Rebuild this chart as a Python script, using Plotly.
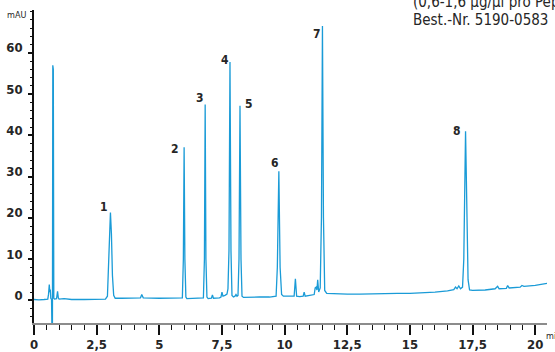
import plotly.graph_objects as go

# ---- data (retention time in min, signal in mAU) ----
time_min = [
    0.00, 0.20, 0.40, 0.55, 0.58, 0.61, 0.63, 0.65, 0.67, 0.70, 0.72, 0.735, 0.75, 0.77, 0.79,
    0.82, 0.90, 0.94, 0.97, 1.00, 1.20, 1.50, 2.00, 2.50, 2.85,
    2.93, 2.97, 3.01, 3.05, 3.09, 3.13, 3.18, 3.24,
    3.50, 4.00, 4.25, 4.30, 4.36, 5.00, 5.50,
    5.92, 5.96, 5.99, 6.02, 6.06, 6.10, 6.40,
    6.76, 6.80, 6.83, 6.86, 6.90, 6.95, 7.08, 7.12, 7.16, 7.40,
    7.46, 7.50, 7.54, 7.62, 7.70, 7.74, 7.78, 7.82, 7.86, 7.90, 7.96,
    8.02, 8.06, 8.10, 8.14, 8.18, 8.22, 8.26, 8.30, 8.36,
    8.60, 9.00, 9.40, 9.66, 9.71, 9.77, 9.82, 9.88, 9.95,
    10.20, 10.38, 10.43, 10.48, 10.60, 10.74, 10.78, 10.82,
    11.00, 11.18, 11.22, 11.26, 11.29, 11.32, 11.36, 11.42, 11.47, 11.51, 11.55, 11.60, 11.68,
    12.00, 12.50, 13.00, 13.50, 14.00, 14.50, 15.00, 15.50, 16.00, 16.50,
    16.75, 16.82, 16.88, 16.95, 17.02, 17.10, 17.15, 17.22, 17.27, 17.32, 17.38,
    17.50, 18.00, 18.40, 18.50, 18.56, 18.85, 18.90, 18.96, 19.40, 19.47, 19.55,
    20.00, 20.30, 20.47,
]
signal_mau = [
    0.2, 0.1, 0.2, 0.3, 1.5, 3.8, 2.0, 2.6, 0.5, 0.2, -9.0, -9.0, 57.0, 56.0, 0.5,
    0.3, 0.4, 2.2, 0.6, 0.3, 0.4, 0.2, 0.2, 0.3, 0.3,
    1.0, 8.0, 17.0, 21.3, 16.0, 6.0, 1.2, 0.5,
    0.5, 0.5, 0.6, 1.4, 0.6, 0.5, 0.6,
    0.6, 10.0, 37.1, 10.0, 0.8, 0.4, 0.5,
    0.6, 10.0, 47.5, 10.0, 0.8, 0.4, 0.5, 1.3, 0.5, 0.6,
    0.8, 2.0, 1.0, 1.2, 1.5, 2.8, 12.0, 57.8, 12.0, 1.2, 0.8,
    1.0, 1.4, 1.0, 1.2, 10.0, 47.2, 10.0, 1.0, 0.7,
    0.8, 0.8, 0.8, 1.0, 8.0, 31.3, 8.0, 1.4, 1.0,
    1.0, 1.0, 5.2, 1.0, 0.9, 1.0, 2.0, 1.0,
    1.2, 1.4, 3.0, 3.2, 2.5, 5.0, 2.0, 3.0, 20.0, 66.5, 20.0, 2.4, 1.7,
    1.6, 1.5, 1.5, 1.6, 1.6, 1.7, 1.7, 1.8, 2.0, 2.3,
    2.6, 3.2, 2.8, 3.5, 2.8, 3.2, 10.0, 41.0, 20.0, 5.0, 2.5,
    2.4, 2.5, 2.8, 3.4, 2.8, 2.9, 3.6, 3.0, 3.2, 3.6, 3.4,
    3.6, 4.0, 4.1,
]

peak_labels = ["1", "2", "3", "4", "5", "6", "7", "8"]
peak_times = [3.05, 5.99, 6.83, 7.82, 8.22, 9.77, 11.51, 17.22]
peak_heights = [21.3, 37.1, 47.5, 57.8, 47.2, 31.3, 66.5, 41.0]

x_tick_vals = [0, 2.5, 5, 7.5, 10, 12.5, 15, 17.5, 20]
x_tick_text = ["0", "2,5", "5", "7,5", "10", "12,5", "15", "17,5", "20"]
y_tick_vals = [0, 10, 20, 30, 40, 50, 60]
y_tick_text = ["0", "10", "20", "30", "40", "50", "60"]

# ---- styling ----
FONT = "DejaVu Sans Condensed, DejaVu Sans, sans-serif"
TXT = "#262626"
LINE = "#1a9bd7"

# label offsets in pixels (dx, dy) relative to peak apex
label_offsets = [(-6, 5), (-9, -2), (-5, 6), (-5, 2), (9, 2), (-4, 8), (-5, -8), (-9, 0)]

fig = go.Figure()
fig.add_trace(go.Scatter(
    x=time_min, y=signal_mau, mode="lines",
    line=dict(color=LINE, width=1.3),
    hoverinfo="skip", showlegend=False,
))

annotations = []
for lab, t, h, (dx, dy) in zip(peak_labels, peak_times, peak_heights, label_offsets):
    annotations.append(dict(
        x=t, y=h, xref="x", yref="y", text=lab, showarrow=False,
        xshift=dx, yshift=dy, font=dict(family=FONT, size=12, color=TXT, weight="bold"),
        xanchor="center", yanchor="middle",
    ))

annotations += [
    dict(x=-0.011, y=0.984, xref="paper", yref="paper", text="mAU", showarrow=False,
         xanchor="right", yanchor="middle", font=dict(family=FONT, size=9, color=TXT)),
    dict(x=0.995, y=-0.0425, xref="paper", yref="paper", text="min", showarrow=False,
         xanchor="left", yanchor="middle", font=dict(family=FONT, size=9, color=TXT)),
    dict(x=0.735, y=1.026, xref="paper", yref="paper", text="(0,6-1,6 µg/µl pro Peptid)",
         showarrow=False, xanchor="left", yanchor="middle",
         font=dict(family=FONT, size=15, color=TXT)),
    dict(x=0.735, y=0.968, xref="paper", yref="paper", text="Best.-Nr. 5190-0583",
         showarrow=False, xanchor="left", yanchor="middle",
         font=dict(family=FONT, size=15, color=TXT)),
]

fig.update_layout(
    width=555, height=352,
    margin=dict(l=34, r=8, t=10, b=29, pad=0),
    paper_bgcolor="white", plot_bgcolor="white",
    annotations=annotations,
    showlegend=False,
)

fig.update_xaxes(
    range=[0, 20.47], tickmode="array", tickvals=x_tick_vals, ticktext=x_tick_text,
    automargin=False,
    showgrid=False, zeroline=False, showline=True, linecolor="#8c8c8c", linewidth=1.5,
    ticks="outside", ticklen=10, tickwidth=1.5, tickcolor="#111",
    ticklabelstandoff=-1,
    tickfont=dict(family=FONT, size=13, color=TXT, weight="bold"),
    minor=dict(ticks="outside", tickmode="linear", tick0=0, dtick=0.5, ticklen=5,
               tickwidth=1.2, tickcolor="#111", showgrid=False),
)
fig.update_yaxes(
    range=[-5.5, 70.4], tickmode="array", tickvals=y_tick_vals, ticktext=y_tick_text,
    automargin=False,
    showgrid=False, zeroline=False, showline=True, linecolor="#111", linewidth=1.5,
    ticks="outside", ticklen=4, tickwidth=1.5, tickcolor="#111",
    ticklabelshift=-5, ticklabelstandoff=3,
    tickfont=dict(family=FONT, size=13, color=TXT, weight="bold"),
    minor=dict(ticks="outside", tickmode="linear", tick0=0, dtick=2, ticklen=2,
               tickwidth=1.2, tickcolor="#111", showgrid=False),
)

fig.write_html("out.html")
